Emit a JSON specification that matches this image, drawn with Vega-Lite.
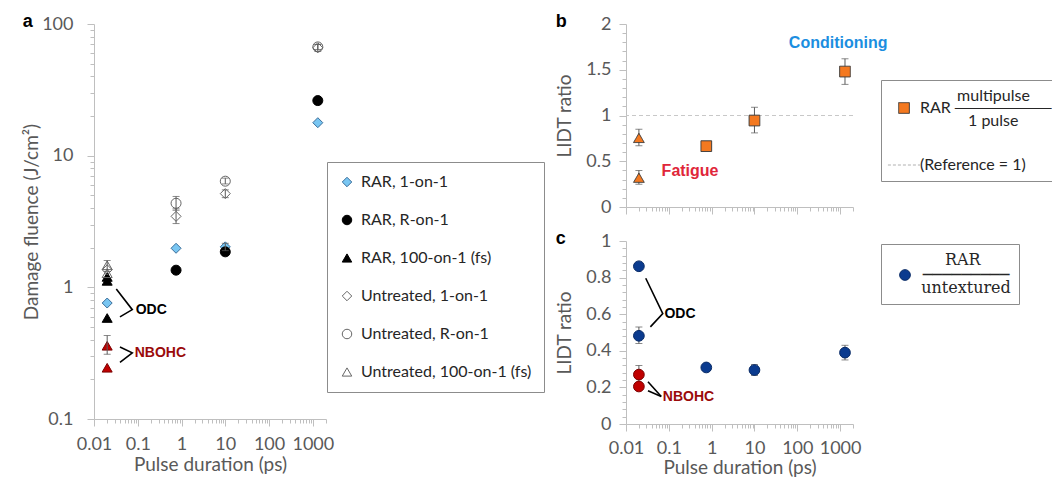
{
  "$schema": "https://vega.github.io/schema/vega-lite/v6.json",
  "background": "white",
  "padding": {"left": 22, "top": 13, "right": 0, "bottom": 0},
  "datasets": {
    "a": [
      {"x": 0.02, "y": 0.76, "s": "RAR, 1-on-1"},
      {"x": 0.75, "y": 1.98, "s": "RAR, 1-on-1"},
      {"x": 10, "y": 2.03, "s": "RAR, 1-on-1", "lo": 1.9, "hi": 2.16},
      {"x": 1300, "y": 17.8, "s": "RAR, 1-on-1"},
      {"x": 0.75, "y": 1.35, "s": "RAR, R-on-1"},
      {"x": 10, "y": 1.86, "s": "RAR, R-on-1"},
      {"x": 1300, "y": 26.2, "s": "RAR, R-on-1"},
      {"x": 0.02, "y": 1.2, "s": "RAR, 100-on-1 (fs)"},
      {"x": 0.02, "y": 1.12, "s": "RAR, 100-on-1 (fs)"},
      {"x": 0.02, "y": 0.585, "s": "RAR, 100-on-1 (fs)"},
      {"x": 0.02, "y": 1.36, "s": "Untreated, 1-on-1"},
      {"x": 0.75, "y": 3.46, "s": "Untreated, 1-on-1", "lo": 3.05, "hi": 3.95},
      {"x": 10, "y": 5.15, "s": "Untreated, 1-on-1", "lo": 4.8, "hi": 5.5},
      {"x": 1300, "y": 66, "s": "Untreated, 1-on-1", "lo": 62, "hi": 70},
      {"x": 0.75, "y": 4.35, "s": "Untreated, R-on-1", "lo": 3.85, "hi": 4.9},
      {"x": 10, "y": 6.4, "s": "Untreated, R-on-1", "lo": 6.1, "hi": 6.75},
      {"x": 1300, "y": 67, "s": "Untreated, R-on-1", "lo": 64, "hi": 70},
      {"x": 0.02, "y": 1.47, "s": "Untreated, 100-on-1 (fs)", "lo": 1.32, "hi": 1.6},
      {"x": 0.02, "y": 1.28, "s": "Untreated, 100-on-1 (fs)"},
      {"x": 0.02, "y": 0.36, "s": "NBOHC", "lo": 0.31, "hi": 0.43},
      {"x": 0.02, "y": 0.245, "s": "NBOHC"}
    ],
    "aLines": [
      {"g": "o", "o": 1, "x": 0.0323, "y": 0.972},
      {"g": "o", "o": 2, "x": 0.0749, "y": 0.677},
      {"g": "o", "o": 3, "x": 0.0392, "y": 0.596},
      {"g": "n", "o": 1, "x": 0.0392, "y": 0.3527},
      {"g": "n", "o": 2, "x": 0.0749, "y": 0.3177},
      {"g": "n", "o": 3, "x": 0.0392, "y": 0.2694}
    ],
    "aText": [
      {"x": 0.0896, "y": 0.677, "t": "ODC"},
      {"x": 0.085, "y": 0.3177, "t": "NBOHC"}
    ],
    "b": [
      {"x": 0.02, "y": 0.755, "s": "RARfs", "lo": 0.67, "hi": 0.85},
      {"x": 0.02, "y": 0.32, "s": "RARfs", "lo": 0.25, "hi": 0.4},
      {"x": 0.75, "y": 0.665, "s": "RAR", "lo": 0.635, "hi": 0.695},
      {"x": 10, "y": 0.945, "s": "RAR", "lo": 0.81, "hi": 1.09},
      {"x": 1300, "y": 1.48, "s": "RAR", "lo": 1.34, "hi": 1.62}
    ],
    "bRef": [{"y": 1}],
    "bText": [
      {"x": 900, "y": 1.79, "t": "Conditioning"},
      {"x": 0.313, "y": 0.39, "t": "Fatigue"}
    ],
    "c": [
      {"x": 0.02, "y": 0.862, "s": "RAR", "lo": 0.845, "hi": 0.878},
      {"x": 0.02, "y": 0.482, "s": "RAR", "lo": 0.44, "hi": 0.53},
      {"x": 0.75, "y": 0.309, "s": "RAR"},
      {"x": 10, "y": 0.295, "s": "RAR", "lo": 0.265, "hi": 0.325},
      {"x": 1300, "y": 0.39, "s": "RAR", "lo": 0.35, "hi": 0.43},
      {"x": 0.02, "y": 0.27, "s": "NBOHC", "lo": 0.225, "hi": 0.32},
      {"x": 0.02, "y": 0.205, "s": "NBOHC"}
    ],
    "cLines": [
      {"g": "o", "o": 1, "x": 0.0289, "y": 0.7965},
      {"g": "o", "o": 2, "x": 0.0723, "y": 0.603},
      {"g": "o", "o": 3, "x": 0.0371, "y": 0.531},
      {"g": "n1", "o": 1, "x": 0.0326, "y": 0.231},
      {"g": "n1", "o": 2, "x": 0.0665, "y": 0.1506},
      {"g": "n2", "o": 1, "x": 0.0326, "y": 0.182},
      {"g": "n2", "o": 2, "x": 0.0665, "y": 0.1506}
    ],
    "cText": [
      {"x": 0.0792, "y": 0.603, "t": "ODC"},
      {"x": 0.0723, "y": 0.15, "t": "NBOHC"}
    ]
  },
  "spacing": 10,
  "resolve": {"scale": {"fill": "independent", "stroke": "independent", "shape": "independent", "color": "independent", "strokeDash": "independent"}, "legend": {"fill": "independent", "stroke": "independent", "shape": "independent", "color": "independent", "strokeDash": "independent"}},
  "hconcat": [
    {
      "width": 232,
      "height": 395,
      "title": {"text": "a"},
      "resolve": {"axis": {"x": "independent", "y": "independent"}},
      "layer": [
        {
          "data": {"name": "a"},
          "mark": {"type": "point", "filled": true, "size": 100, "strokeWidth": 1, "opacity": 1},
          "encoding": {
            "x": {"field": "x", "type": "quantitative", "scale": {"type": "log", "domain": [0.01, 2000], "nice": false},
              "axis": {"title": "Pulse duration (ps)", "orient": "bottom", "values": [0.01, 0.1, 1, 10, 100, 1000], "labelExpr": "format(datum.value, '~g')", "tickSize": 7, "labelOverlap": false, "labelPadding": 9, "titlePadding": 2}},
            "y": {"field": "y", "type": "quantitative", "scale": {"type": "log", "domain": [0.1, 100], "nice": false},
              "axis": {"title": "Damage fluence (J/cm²)", "orient": "left", "values": [0.1, 1, 10, 100], "labelExpr": "format(datum.value, '~g')", "tickSize": 7, "labelOverlap": false, "labelPadding": 14, "titlePadding": 0}},
            "shape": {"field": "s", "type": "nominal",
              "scale": {"domain": ["RAR, 1-on-1", "RAR, R-on-1", "RAR, 100-on-1 (fs)", "Untreated, 1-on-1", "Untreated, R-on-1", "Untreated, 100-on-1 (fs)", "NBOHC"],
                "range": ["diamond", "circle", "triangle-up", "diamond", "circle", "triangle-up", "triangle-up"]},
              "legend": {"title": null, "orient": "none", "legendX": 233, "legendY": 138, "values": ["RAR, 1-on-1", "RAR, R-on-1", "RAR, 100-on-1 (fs)", "Untreated, 1-on-1", "Untreated, R-on-1", "Untreated, 100-on-1 (fs)"], "strokeColor": "#8c8c8c", "padding": 12, "rowPadding": 22, "labelFont": "Lato", "labelFontSize": 16, "labelColor": "#262626", "symbolSize": 90, "labelOffset": 6, "symbolStrokeWidth": 1, "labelLimit": 300}},
            "fill": {"field": "s", "type": "nominal",
              "scale": {"domain": ["RAR, 1-on-1", "RAR, R-on-1", "RAR, 100-on-1 (fs)", "Untreated, 1-on-1", "Untreated, R-on-1", "Untreated, 100-on-1 (fs)", "NBOHC"],
                "range": ["#79c6f2", "#000000", "#000000", "rgba(255,255,255,0)", "rgba(255,255,255,0)", "rgba(255,255,255,0)", "#c00000"]},
              "legend": {"title": null, "orient": "none", "legendX": 233, "legendY": 138, "values": ["RAR, 1-on-1", "RAR, R-on-1", "RAR, 100-on-1 (fs)", "Untreated, 1-on-1", "Untreated, R-on-1", "Untreated, 100-on-1 (fs)"], "strokeColor": "#8c8c8c", "padding": 12, "rowPadding": 22, "labelFont": "Lato", "labelFontSize": 16, "labelColor": "#262626", "symbolSize": 90, "labelOffset": 6, "symbolStrokeWidth": 1, "labelLimit": 300}},
            "stroke": {"field": "s", "type": "nominal",
              "scale": {"domain": ["RAR, 1-on-1", "RAR, R-on-1", "RAR, 100-on-1 (fs)", "Untreated, 1-on-1", "Untreated, R-on-1", "Untreated, 100-on-1 (fs)", "NBOHC"],
                "range": ["#3b6e9a", "#000000", "#000000", "#666666", "#666666", "#666666", "#7a0000"]},
              "legend": {"title": null, "orient": "none", "legendX": 233, "legendY": 138, "values": ["RAR, 1-on-1", "RAR, R-on-1", "RAR, 100-on-1 (fs)", "Untreated, 1-on-1", "Untreated, R-on-1", "Untreated, 100-on-1 (fs)"], "strokeColor": "#8c8c8c", "padding": 12, "rowPadding": 22, "labelFont": "Lato", "labelFontSize": 16, "labelColor": "#262626", "symbolSize": 90, "labelOffset": 6, "symbolStrokeWidth": 1, "labelLimit": 300}}
          }
        },
        {
          "data": {"name": "a"},
          "transform": [{"filter": "isValid(datum.lo)"}],
          "mark": {"type": "rule", "color": "#595959", "strokeWidth": 1},
          "encoding": {
            "x": {"field": "x", "type": "quantitative", "scale": {"type": "log", "domain": [0.01, 2000], "nice": false},
              "axis": {"title": null, "orient": "bottom", "values": [0.02,0.03,0.04,0.05,0.06,0.07,0.08,0.09,0.2,0.3,0.4,0.5,0.6,0.7,0.8,0.9,2,3,4,5,6,7,8,9,20,30,40,50,60,70,80,90,200,300,400,500,600,700,800,900,2000], "labels": false, "domain": false, "tickSize": 4}},
            "y": {"field": "lo", "type": "quantitative", "scale": {"type": "log", "domain": [0.1, 100], "nice": false},
              "axis": {"title": null, "orient": "left", "values": [0.2,0.3,0.4,0.5,0.6,0.7,0.8,0.9,2,3,4,5,6,7,8,9,20,30,40,50,60,70,80,90], "labels": false, "domain": false, "tickSize": 4}},
            "y2": {"field": "hi"}
          }
        },
        {
          "data": {"name": "a"},
          "transform": [{"filter": "isValid(datum.lo)"}, {"fold": ["lo", "hi"], "as": ["k", "v"]}],
          "mark": {"type": "tick", "orient": "horizontal", "size": 7, "thickness": 1, "color": "#595959"},
          "encoding": {
            "x": {"field": "x", "type": "quantitative", "scale": {"type": "log", "domain": [0.01, 2000], "nice": false}, "axis": null},
            "y": {"field": "v", "type": "quantitative", "scale": {"type": "log", "domain": [0.1, 100], "nice": false}, "axis": null}
          }
        },
        {
          "data": {"name": "aLines"},
          "mark": {"type": "line", "color": "#000000", "strokeWidth": 1.6},
          "encoding": {
            "x": {"field": "x", "type": "quantitative", "scale": {"type": "log", "domain": [0.01, 2000], "nice": false}, "axis": null},
            "y": {"field": "y", "type": "quantitative", "scale": {"type": "log", "domain": [0.1, 100], "nice": false}, "axis": null},
            "detail": {"field": "g"},
            "order": {"field": "o"}
          }
        },
        {
          "data": {"name": "aText"},
          "mark": {"type": "text", "align": "left", "baseline": "middle", "font": "Liberation Sans", "fontWeight": "bold", "fontSize": 14},
          "encoding": {
            "x": {"field": "x", "type": "quantitative", "scale": {"type": "log", "domain": [0.01, 2000], "nice": false}, "axis": null},
            "y": {"field": "y", "type": "quantitative", "scale": {"type": "log", "domain": [0.1, 100], "nice": false}, "axis": null},
            "text": {"field": "t"},
            "color": {"field": "t", "type": "nominal", "scale": {"domain": ["ODC", "NBOHC"], "range": ["#000000", "#9a0a0a"]}, "legend": null}
          }
        }
      ]
    },
    {
      "spacing": 14,
      "resolve": {"scale": {"fill": "independent", "stroke": "independent", "shape": "independent", "color": "independent", "strokeDash": "independent"}, "legend": {"fill": "independent", "stroke": "independent", "shape": "independent", "color": "independent", "strokeDash": "independent"}},
      "vconcat": [
        {
          "width": 227,
          "height": 183,
          "title": {"text": "b"},
          "resolve": {"axis": {"x": "independent", "y": "independent"}},
          "layer": [
            {
              "data": {"name": "bRef"},
              "mark": {"type": "rule", "color": "#c8c8c8", "strokeDash": [4, 3], "strokeWidth": 1.2},
              "encoding": {
                "y": {"field": "y", "type": "quantitative", "scale": {"domain": [0, 2], "nice": false}, "axis": null}
              }
            },
            {
              "data": {"name": "b"},
              "mark": {"type": "rule", "color": "#595959", "strokeWidth": 1},
              "encoding": {
                "x": {"field": "x", "type": "quantitative", "scale": {"type": "log", "domain": [0.01, 2000], "nice": false},
                  "axis": {"title": null, "orient": "bottom", "values": [0.02,0.03,0.04,0.05,0.06,0.07,0.08,0.09,0.2,0.3,0.4,0.5,0.6,0.7,0.8,0.9,2,3,4,5,6,7,8,9,20,30,40,50,60,70,80,90,200,300,400,500,600,700,800,900,2000], "labels": false, "domain": false, "tickSize": 4}},
                "y": {"field": "lo", "type": "quantitative", "scale": {"domain": [0, 2], "nice": false},
                  "axis": {"title": null, "orient": "left", "values": [0.1,0.2,0.3,0.4,0.6,0.7,0.8,0.9,1.1,1.2,1.3,1.4,1.6,1.7,1.8,1.9], "labels": false, "domain": false, "tickSize": 4}},
                "y2": {"field": "hi"}
              }
            },
            {
              "data": {"name": "b"},
              "transform": [{"fold": ["lo", "hi"], "as": ["k", "v"]}],
              "mark": {"type": "tick", "orient": "horizontal", "size": 7, "thickness": 1, "color": "#595959"},
              "encoding": {
                "x": {"field": "x", "type": "quantitative", "scale": {"type": "log", "domain": [0.01, 2000], "nice": false}, "axis": null},
                "y": {"field": "v", "type": "quantitative", "scale": {"domain": [0, 2], "nice": false}, "axis": null}
              }
            },
            {
              "data": {"name": "b"},
              "mark": {"type": "point", "filled": true, "size": 115, "strokeWidth": 1, "opacity": 1},
              "encoding": {
                "x": {"field": "x", "type": "quantitative", "scale": {"type": "log", "domain": [0.01, 2000], "nice": false},
                  "axis": {"title": null, "orient": "bottom", "labels": false, "values": [0.01, 0.1, 1, 10, 100, 1000], "tickSize": 7}},
                "y": {"field": "y", "type": "quantitative", "scale": {"domain": [0, 2], "nice": false},
                  "axis": {"title": "LIDT ratio", "orient": "left", "values": [0, 0.5, 1, 1.5, 2], "labelExpr": "format(datum.value, '~g')", "tickSize": 7, "labelOverlap": false, "labelPadding": 8, "titlePadding": 11}},
                "shape": {"field": "s", "type": "nominal", "scale": {"domain": ["RAR", "RARfs", "Reference"], "range": ["square", "triangle-up", "M-3,0H3"]},
                  "legend": {"title": "\u200b\u2002\u2002\u2002\u2002\u2002\u2002\u2002\u2002\u00a0multipulse", "titleFont": "Lato", "titleFontSize": 16, "titleFontWeight": "normal", "titleColor": "#262626", "titleAnchor": "start", "titleAlign": "left", "titlePadding": -4, "titleLimit": 400, "orient": "none", "legendX": 255, "legendY": 56, "values": ["RAR", "Reference"], "strokeColor": "#8c8c8c", "padding": 8, "rowPadding": 28, "labelFont": "Lato, DejaVu Sans", "labelFontSize": 16, "labelColor": "#262626", "labelLimit": 400, "symbolOffset": 7, "labelOffset": 8, "symbolStrokeWidth": 1, "symbolSize": 115,
                    "labelExpr": "datum.value == 'RAR' ? ['RAR ────────', '\u200b\u2002\u2002\u2002\u2002\u2002\u20021 pulse'] : '(Reference = 1)'"}},
                "fill": {"field": "s", "type": "nominal", "scale": {"domain": ["RAR", "RARfs", "Reference"], "range": ["#f47920", "#f47920", "#ffffff"]},
                  "legend": {"title": "\u200b\u2002\u2002\u2002\u2002\u2002\u2002\u2002\u2002\u00a0multipulse", "titleFont": "Lato", "titleFontSize": 16, "titleFontWeight": "normal", "titleColor": "#262626", "titleAnchor": "start", "titleAlign": "left", "titlePadding": -4, "titleLimit": 400, "orient": "none", "legendX": 255, "legendY": 56, "values": ["RAR", "Reference"], "strokeColor": "#8c8c8c", "padding": 8, "rowPadding": 28, "labelFont": "Lato, DejaVu Sans", "labelFontSize": 16, "labelColor": "#262626", "labelLimit": 400, "symbolOffset": 7, "labelOffset": 8, "symbolStrokeWidth": 1, "symbolSize": 115,
                    "labelExpr": "datum.value == 'RAR' ? ['RAR ────────', '\u200b\u2002\u2002\u2002\u2002\u2002\u20021 pulse'] : '(Reference = 1)'"}},
                "stroke": {"field": "s", "type": "nominal", "scale": {"domain": ["RAR", "RARfs", "Reference"], "range": ["#3a3a3a", "#3a3a3a", "#b0b0b0"]},
                  "legend": {"title": "\u200b\u2002\u2002\u2002\u2002\u2002\u2002\u2002\u2002\u00a0multipulse", "titleFont": "Lato", "titleFontSize": 16, "titleFontWeight": "normal", "titleColor": "#262626", "titleAnchor": "start", "titleAlign": "left", "titlePadding": -4, "titleLimit": 400, "orient": "none", "legendX": 255, "legendY": 56, "values": ["RAR", "Reference"], "strokeColor": "#8c8c8c", "padding": 8, "rowPadding": 28, "labelFont": "Lato, DejaVu Sans", "labelFontSize": 16, "labelColor": "#262626", "labelLimit": 400, "symbolOffset": 7, "labelOffset": 8, "symbolStrokeWidth": 1, "symbolSize": 115,
                    "labelExpr": "datum.value == 'RAR' ? ['RAR ────────', '\u200b\u2002\u2002\u2002\u2002\u2002\u20021 pulse'] : '(Reference = 1)'"}},
                "strokeDash": {"field": "s", "type": "nominal", "scale": {"domain": ["RAR", "RARfs", "Reference"], "range": [[1, 0], [1, 0], [3, 2]]},
                  "legend": {"title": "\u200b\u2002\u2002\u2002\u2002\u2002\u2002\u2002\u2002\u00a0multipulse", "titleFont": "Lato", "titleFontSize": 16, "titleFontWeight": "normal", "titleColor": "#262626", "titleAnchor": "start", "titleAlign": "left", "titlePadding": -4, "titleLimit": 400, "orient": "none", "legendX": 255, "legendY": 56, "values": ["RAR", "Reference"], "strokeColor": "#8c8c8c", "padding": 8, "rowPadding": 28, "labelFont": "Lato, DejaVu Sans", "labelFontSize": 16, "labelColor": "#262626", "labelLimit": 400, "symbolOffset": 7, "labelOffset": 8, "symbolStrokeWidth": 1, "symbolSize": 115,
                    "labelExpr": "datum.value == 'RAR' ? ['RAR ────────', '\u200b\u2002\u2002\u2002\u2002\u2002\u20021 pulse'] : '(Reference = 1)'"}}
              }
            },
            {
              "data": {"name": "bText"},
              "mark": {"type": "text", "align": "center", "baseline": "middle", "font": "Liberation Sans", "fontWeight": "bold", "fontSize": 16},
              "encoding": {
                "x": {"field": "x", "type": "quantitative", "scale": {"type": "log", "domain": [0.01, 2000], "nice": false}, "axis": null},
                "y": {"field": "y", "type": "quantitative", "scale": {"domain": [0, 2], "nice": false}, "axis": null},
                "text": {"field": "t"},
                "color": {"field": "t", "type": "nominal", "scale": {"domain": ["Conditioning", "Fatigue"], "range": ["#1b8ee0", "#e0263a"]}, "legend": null}
              }
            }
          ]
        },
        {
          "width": 227,
          "height": 183,
          "title": {"text": "c"},
          "resolve": {"axis": {"x": "independent", "y": "independent"}},
          "layer": [
            {
              "data": {"name": "c"},
              "transform": [{"filter": "isValid(datum.lo)"}],
              "mark": {"type": "rule", "color": "#595959", "strokeWidth": 1},
              "encoding": {
                "x": {"field": "x", "type": "quantitative", "scale": {"type": "log", "domain": [0.01, 2000], "nice": false},
                  "axis": {"title": null, "orient": "bottom", "values": [0.02,0.03,0.04,0.05,0.06,0.07,0.08,0.09,0.2,0.3,0.4,0.5,0.6,0.7,0.8,0.9,2,3,4,5,6,7,8,9,20,30,40,50,60,70,80,90,200,300,400,500,600,700,800,900,2000], "labels": false, "domain": false, "tickSize": 4}},
                "y": {"field": "lo", "type": "quantitative", "scale": {"domain": [0, 1], "nice": false},
                  "axis": {"title": null, "orient": "left", "values": [0.04,0.08,0.12,0.16,0.24,0.28,0.32,0.36,0.44,0.48,0.52,0.56,0.64,0.68,0.72,0.76,0.84,0.88,0.92,0.96], "labels": false, "domain": false, "tickSize": 4}},
                "y2": {"field": "hi"}
              }
            },
            {
              "data": {"name": "c"},
              "transform": [{"filter": "isValid(datum.lo)"}, {"fold": ["lo", "hi"], "as": ["k", "v"]}],
              "mark": {"type": "tick", "orient": "horizontal", "size": 7, "thickness": 1, "color": "#595959"},
              "encoding": {
                "x": {"field": "x", "type": "quantitative", "scale": {"type": "log", "domain": [0.01, 2000], "nice": false}, "axis": null},
                "y": {"field": "v", "type": "quantitative", "scale": {"domain": [0, 1], "nice": false}, "axis": null}
              }
            },
            {
              "data": {"name": "c"},
              "mark": {"type": "point", "filled": true, "size": 115, "strokeWidth": 1, "shape": "circle", "opacity": 1},
              "encoding": {
                "x": {"field": "x", "type": "quantitative", "scale": {"type": "log", "domain": [0.01, 2000], "nice": false},
                  "axis": {"title": "Pulse duration (ps)", "orient": "bottom", "values": [0.01, 0.1, 1, 10, 100, 1000], "labelExpr": "format(datum.value, '~g')", "tickSize": 7, "labelOverlap": false, "labelPadding": 8, "titlePadding": 1}},
                "y": {"field": "y", "type": "quantitative", "scale": {"domain": [0, 1], "nice": false},
                  "axis": {"title": "LIDT ratio", "orient": "left", "values": [0, 0.2, 0.4, 0.6, 0.8, 1], "labelExpr": "format(datum.value, '~g')", "tickSize": 7, "labelOverlap": false, "labelPadding": 8, "titlePadding": 11}},
                "fill": {"field": "s", "type": "nominal", "scale": {"domain": ["RAR", "NBOHC"], "range": ["#0b3b8f", "#c00000"]},
                  "legend": {"title": "\u200b\u2002\u2002\u2002\u2002\u2002\u2002\u2002RAR", "titleFont": "DejaVu Serif", "titleFontSize": 16, "titleFontWeight": "normal", "titleColor": "#262626", "titleAnchor": "start", "titleAlign": "left", "titlePadding": -1, "titleLimit": 400, "orient": "none", "legendX": 255, "legendY": 3, "values": ["RAR"], "strokeColor": "#8c8c8c", "padding": 8, "labelFont": "DejaVu Serif, DejaVu Sans", "labelFontSize": 16, "labelColor": "#262626", "labelLimit": 400, "labelAlign": "center", "labelOffset": 53, "symbolSize": 115, "symbolOffset": 8, "symbolStrokeWidth": 1,
                    "labelExpr": "['─────────', 'untextured']"}},
                "stroke": {"field": "s", "type": "nominal", "scale": {"domain": ["RAR", "NBOHC"], "range": ["#082a66", "#7a0000"]},
                  "legend": {"title": "\u200b\u2002\u2002\u2002\u2002\u2002\u2002\u2002RAR", "titleFont": "DejaVu Serif", "titleFontSize": 16, "titleFontWeight": "normal", "titleColor": "#262626", "titleAnchor": "start", "titleAlign": "left", "titlePadding": -1, "titleLimit": 400, "orient": "none", "legendX": 255, "legendY": 3, "values": ["RAR"], "strokeColor": "#8c8c8c", "padding": 8, "labelFont": "DejaVu Serif, DejaVu Sans", "labelFontSize": 16, "labelColor": "#262626", "labelLimit": 400, "labelAlign": "center", "labelOffset": 53, "symbolSize": 115, "symbolOffset": 8, "symbolStrokeWidth": 1,
                    "labelExpr": "['─────────', 'untextured']"}}
              }
            },
            {
              "data": {"name": "cLines"},
              "mark": {"type": "line", "color": "#000000", "strokeWidth": 1.6},
              "encoding": {
                "x": {"field": "x", "type": "quantitative", "scale": {"type": "log", "domain": [0.01, 2000], "nice": false}, "axis": null},
                "y": {"field": "y", "type": "quantitative", "scale": {"domain": [0, 1], "nice": false}, "axis": null},
                "detail": {"field": "g"},
                "order": {"field": "o"}
              }
            },
            {
              "data": {"name": "cText"},
              "mark": {"type": "text", "align": "left", "baseline": "middle", "font": "Liberation Sans", "fontWeight": "bold", "fontSize": 14},
              "encoding": {
                "x": {"field": "x", "type": "quantitative", "scale": {"type": "log", "domain": [0.01, 2000], "nice": false}, "axis": null},
                "y": {"field": "y", "type": "quantitative", "scale": {"domain": [0, 1], "nice": false}, "axis": null},
                "text": {"field": "t"},
                "color": {"field": "t", "type": "nominal", "scale": {"domain": ["ODC", "NBOHC"], "range": ["#000000", "#9a0a0a"]}, "legend": null}
              }
            }
          ]
        }
      ]
    }
  ],
  "config": {
    "font": "Lato",
    "view": {"stroke": null},
    "axis": {"domainColor": "#bfbfbf", "tickColor": "#bfbfbf", "labelColor": "#595959", "titleColor": "#595959", "labelFont": "Lato", "titleFont": "Lato", "labelFontSize": 18, "titleFontSize": 19, "titleFontWeight": "normal", "grid": false, "labelOverlap": false, "labelFlush": false},
    "title": {"anchor": "start", "frame": "bounds", "fontSize": 18, "fontWeight": "bold", "font": "Liberation Sans", "color": "#000000", "offset": -16},
    "legend": {"symbolStrokeWidth": 1},
    "style": {"guide-label": {"lineHeight": 13}}
  }
}
